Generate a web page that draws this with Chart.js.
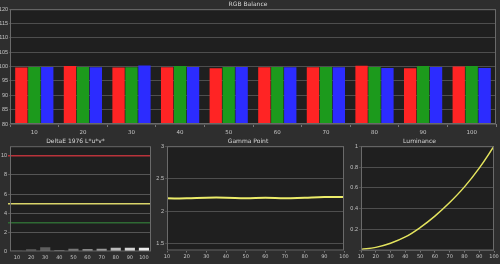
<!DOCTYPE html>
<html>
<head>
<meta charset="utf-8">
<script src="https://cdn.jsdelivr.net/npm/chart.js@4.4.0/dist/chart.umd.min.js"></script>
<style>
html,body{margin:0;padding:0;background:#2e2e2e;width:500px;height:264px;overflow:hidden}
canvas{position:absolute}
</style>
</head>
<body>
<canvas id="rgb" width="500" height="137" style="left:0;top:0"></canvas>
<canvas id="de" width="160" height="127" style="left:0;top:137px"></canvas>
<canvas id="gamma" width="200" height="127" style="left:152px;top:137px"></canvas>
<canvas id="lum" width="155" height="127" style="left:345px;top:137px"></canvas>
<script>
// ── data ──
const LEVELS=['10','20','30','40','50','60','70','80','90','100'];
const RED  =[99.7,100.2,99.7,99.8,99.4,99.8,99.8,100.3,99.4,100.0];
const GREEN=[99.9,99.9,99.8,100.2,99.9,99.9,99.9,99.9,100.2,100.2];
const BLUE =[99.9,99.8,100.4,99.9,99.9,99.8,99.8,99.5,99.9,99.5];
const DELTA_E=[0.1,0.25,0.45,0.15,0.3,0.25,0.3,0.4,0.4,0.4];
const DE_LIMITS=[10,5,3];
const GAMMA_X=[10,20,30,40,50,60,70,80,90,100];
const GAMMA=[2.20,2.20,2.21,2.21,2.20,2.21,2.20,2.21,2.22,2.22];
const LUM=[0.01,0.03,0.07,0.13,0.22,0.33,0.46,0.61,0.79,1.0];

Chart.defaults.font.family='"DejaVu Sans", sans-serif';
Chart.defaults.font.size=5;
Chart.defaults.color='#c4c4c4';
Chart.defaults.animation=false;

const TXT='#c4c4c4',GRID='#4e4e4e';
const DE_LIMIT_COLORS={10:'#b8333a',5:'#d9d46a',3:'#2f6a34'};
const DE_SHADES=['#3c3c3c','#4e4e4e','#5e5e5e','#666','#777','#888','#999','#bbb','#d4d4d4','#ececec'];

// plot area background + frame
const frame={id:'frame',
  beforeDraw(c){const a=c.chartArea,x=c.ctx;x.save();x.fillStyle='#1f1f1f';x.fillRect(a.left,a.top,a.right-a.left,a.bottom-a.top);x.restore();},
  afterDraw(c){const a=c.chartArea,x=c.ctx;x.save();x.strokeStyle='#6a6a6a';x.lineWidth=1;x.strokeRect(a.left+.5,a.top+.5,a.right-a.left-1,a.bottom-a.top-1);x.restore();}
};
const title=t=>({display:true,text:t,color:'#d8d8d8',font:{size:6,weight:'normal'},padding:{top:1,bottom:1}});
const fitW=w=>s=>{s.width=w;};
const fitH=h=>s=>{s.height=h;};
const xt={color:TXT,padding:1,maxRotation:0,minRotation:0,autoSkip:false};
const yFont={family:'"Liberation Sans", sans-serif',size:5.5};

/* ── RGB Balance ── */
new Chart(document.getElementById('rgb'),{
  type:'bar',
  data:{labels:LEVELS,datasets:[
    {data:RED,  backgroundColor:'#ff2424'},
    {data:GREEN,backgroundColor:'#1c9a1c'},
    {data:BLUE, backgroundColor:'#2c2cff'},
  ].map(d=>({...d,categoryPercentage:0.8,barPercentage:0.95,borderWidth:0}))},
  options:{responsive:false,layout:{padding:{left:0,right:4,top:0,bottom:0}},
    plugins:{legend:{display:false},tooltip:{enabled:false},title:title('RGB Balance')},
    scales:{
      x:{grid:{drawOnChartArea:false,color:'#777',tickLength:3},border:{display:false},ticks:{...xt,padding:2,font:{size:5.5}},afterFit:fitH(13)},
      y:{min:80,max:120,ticks:{stepSize:5,color:TXT,padding:1,autoSkip:false,font:yFont},grid:{color:GRID,tickLength:1},border:{display:false},afterFit:fitW(10)}
    }},
  plugins:[frame]
});

/* ── DeltaE 1976 ── */
new Chart(document.getElementById('de'),{
  type:'bar',
  data:{labels:LEVELS,datasets:[{data:DELTA_E,backgroundColor:DE_SHADES,categoryPercentage:1,barPercentage:0.72,borderWidth:0}]},
  options:{responsive:false,layout:{padding:{left:0,right:9,top:0,bottom:0}},
    plugins:{legend:{display:false},tooltip:{enabled:false},title:title('DeltaE 1976 L*u*v*')},
    scales:{
      x:{grid:{drawOnChartArea:false,color:'transparent',tickLength:2},border:{display:false},ticks:{...xt},afterFit:fitH(12.5)},
      y:{min:0,max:11,ticks:{stepSize:1,includeBounds:false,autoSkip:false,color:TXT,padding:1,font:yFont,callback:v=>v%2===0?String(v):''},
        grid:{tickLength:2,
          color:c=>DE_LIMITS.includes(c.tick.value)?DE_LIMIT_COLORS[c.tick.value]:(c.tick.value%2===0&&c.tick.value>0?'#555':'transparent'),
          lineWidth:c=>DE_LIMITS.includes(c.tick.value)?1.5:1},
        border:{display:false},afterFit:fitW(10)}
    }},
  plugins:[frame]
});

/* ── Gamma Point ── */
new Chart(document.getElementById('gamma'),{
  type:'line',
  data:{datasets:[{data:GAMMA_X.map((x,i)=>({x,y:GAMMA[i]})),borderColor:'#ecec6a',borderWidth:2,pointRadius:0,tension:0.4}]},
  options:{responsive:false,layout:{padding:{left:0,right:8,top:0,bottom:0}},
    plugins:{legend:{display:false},tooltip:{enabled:false},title:title('Gamma Point')},
    scales:{
      x:{type:'linear',min:10,max:100,ticks:{...xt,stepSize:10},grid:{drawOnChartArea:false,color:'#777',tickLength:2},border:{display:false},afterFit:fitH(13.5)},
      y:{min:1.4,max:3,ticks:{stepSize:0.5,includeBounds:false,autoSkip:false,color:TXT,padding:1,font:yFont,callback:v=>String(v)},grid:{color:GRID,tickLength:2},border:{display:false},afterFit:fitW(15)}
    }},
  plugins:[frame]
});

/* ── Luminance ── */
new Chart(document.getElementById('lum'),{
  type:'line',
  data:{datasets:[{data:GAMMA_X.map((x,i)=>({x,y:LUM[i]})),borderColor:'#e4e45e',borderWidth:1.5,pointRadius:0,tension:0.4}]},
  options:{responsive:false,layout:{padding:{left:0,right:6,top:0,bottom:0}},
    plugins:{legend:{display:false},tooltip:{enabled:false},title:title('Luminance')},
    scales:{
      x:{type:'linear',min:10,max:100,ticks:{...xt,stepSize:10},grid:{drawOnChartArea:false,color:'#777',tickLength:2},border:{display:false},afterFit:fitH(13.5)},
      y:{min:0,max:1,ticks:{stepSize:0.2,autoSkip:false,color:TXT,padding:1,font:yFont,callback:v=>v===0?'':String(v)},grid:{color:GRID,tickLength:2},border:{display:false},afterFit:fitW(16)}
    }},
  plugins:[frame]
});
</script>
</body>
</html>
